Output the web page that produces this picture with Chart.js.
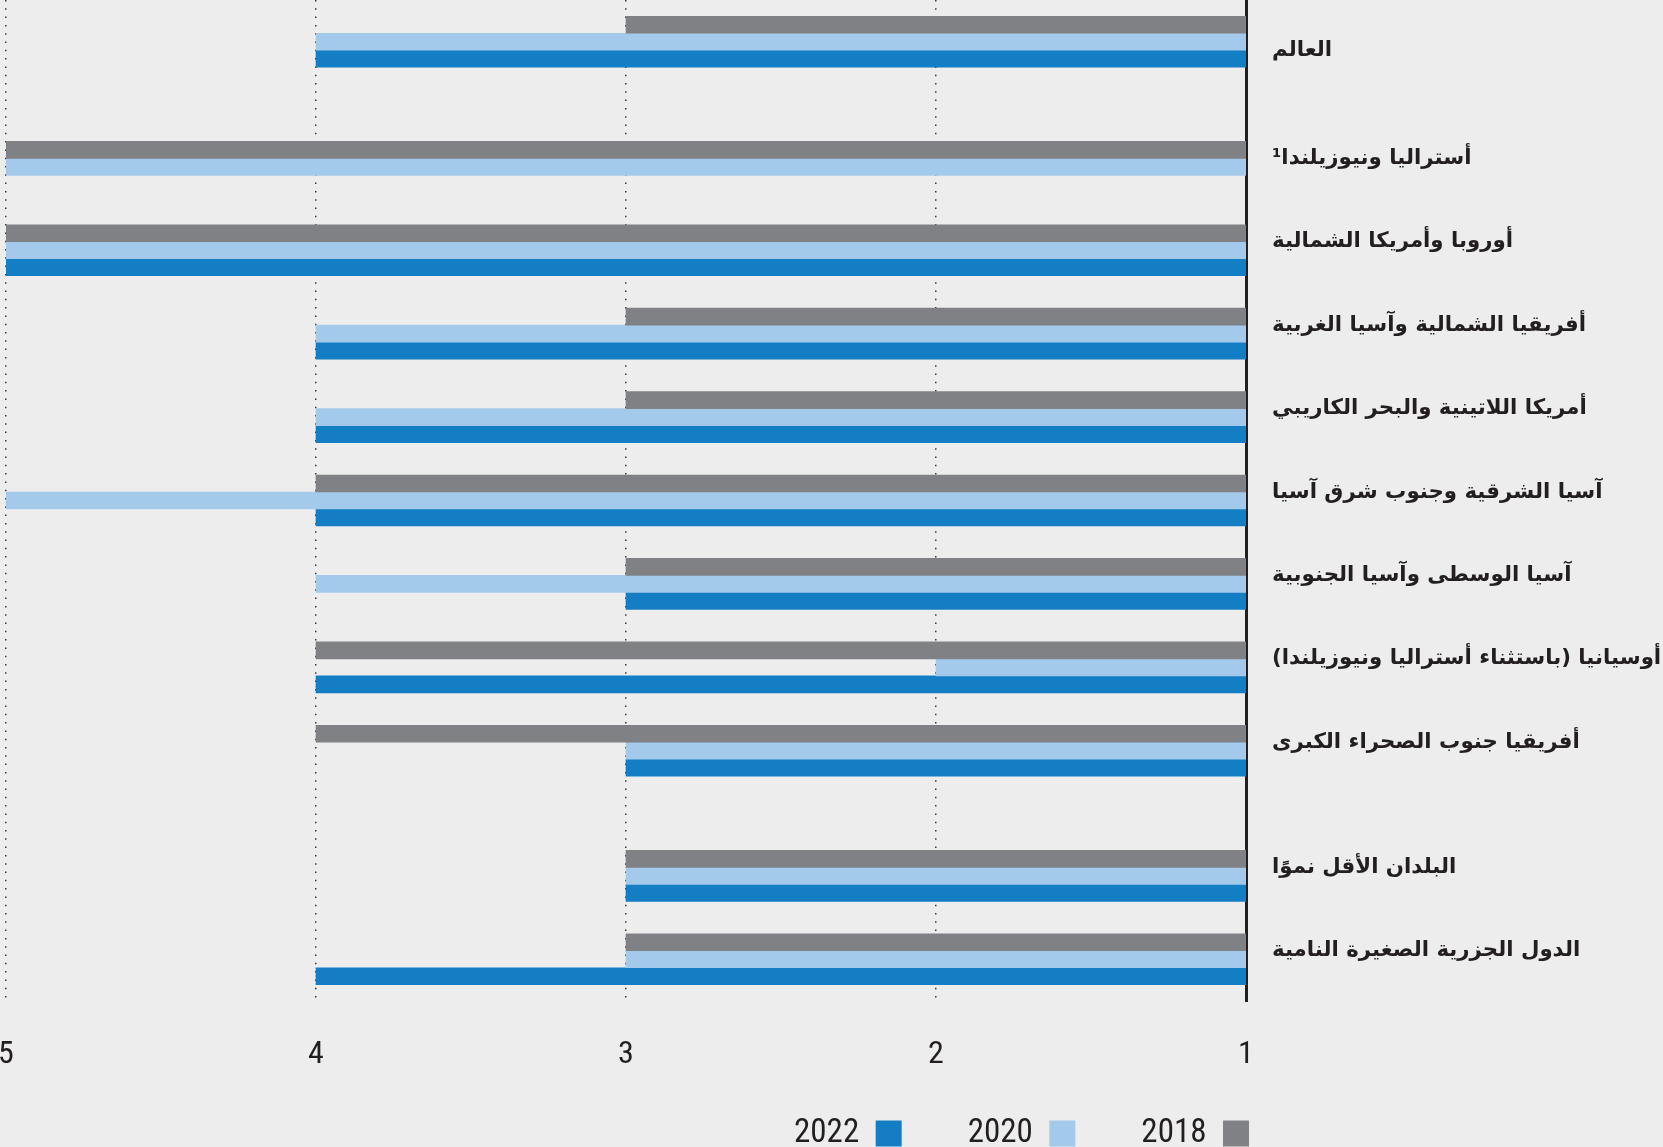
<!DOCTYPE html>
<html lang="ar">
<head>
<meta charset="utf-8">
<title>Bar chart</title>
<script src="https://cdn.jsdelivr.net/npm/chart.js@4.4.1/dist/chart.umd.min.js"></script>
<style>
  html, body { margin: 0; padding: 0; background: #ededed; overflow: hidden; }
  #wrap { width: 1663px; height: 1147px; }
</style>
</head>
<body>
<div id="wrap"><canvas id="bar" dir="rtl"></canvas></div>
<script>
const categories = [
  'العالم',
  'أستراليا ونيوزيلندا¹',
  'أوروبا وأمريكا الشمالية',
  'أفريقيا الشمالية وآسيا الغربية',
  'أمريكا اللاتينية والبحر الكاريبي',
  'آسيا الشرقية وجنوب شرق آسيا',
  'آسيا الوسطى وآسيا الجنوبية',
  'أوسيانيا (باستثناء أستراليا ونيوزيلندا)',
  'أفريقيا جنوب الصحراء الكبرى',
  'البلدان الأقل نموًا',
  'الدول الجزرية الصغيرة النامية'
];
const years = ['2018', '2020', '2022'];
const values2018 = [3, 5, 5, 3, 3, 4, 3, 4, 4, 3, 3];
const values2020 = [4, 5, 5, 4, 4, 5, 4, 2, 3, 3, 3];
const values2022 = [4, null, 5, 4, 4, 4, 3, 4, 3, 3, 4];
const xTicks = [1, 2, 3, 4, 5];

// rows before these get a wider gap in the original layout
const wideGapBefore = ['أستراليا ونيوزيلندا¹', 'البلدان الأقل نموًا'];
// this name sits a little below its bars instead of above
const lowLabels = ['العالم'];

const numFont = "'Liberation Sans Narrow', 'Roboto Condensed', 'Liberation Sans', sans-serif";
const ink = '#231f20';

// half-row spacers so the category scale keeps the uneven spacing
const rowLabels = [];
categories.forEach(c => {
  rowLabels.push('');
  if (wideGapBefore.includes(c)) rowLabels.push('');
  rowLabels.push(c);
});
rowLabels.push('');

const toPoints = vals => categories.map((c, i) => ({ x: vals[i], y: c }));

// the axes are squeezed to make room for the legend, so let their labels spill out
const unclipLabels = {
  id: 'unclipLabels',
  afterLayout(chart) {
    chart.scales.y.right = chart.width;
    chart.scales.x.bottom = chart.height;
  }
};

const bar = document.getElementById('bar');

new Chart(bar, {
  type: 'bar',
  data: {
    labels: rowLabels,
    datasets: [
      { label: years[0], data: toPoints(values2018), backgroundColor: '#808184' },
      { label: years[1], data: toPoints(values2020), backgroundColor: '#a3c9eb' },
      { label: years[2], data: toPoints(values2022), backgroundColor: '#137ec3' }
    ]
  },
  plugins: [unclipLabels],
  options: {
    indexAxis: 'y',
    animation: false,
    responsive: true,
    maintainAspectRatio: false,
    datasets: {
      bar: { barThickness: 17, borderWidth: 0 }
    },
    layout: {
      padding: { left: 6, top: 0, right: 348, bottom: -13 }
    },
    scales: {
      x: {
        reverse: true,
        min: 1,
        max: 5,
        afterBuildTicks: scale => {
          scale.ticks = xTicks.map(v => ({ value: v }));
        },
        afterFit: scale => {
          scale.height = 50;
          scale.paddingLeft = 0;
          scale.paddingRight = 0;
        },
        ticks: {
          padding: 35,
          color: ink,
          font: { family: numFont, size: 32 }
        },
        grid: {
          drawTicks: false,
          lineWidth: 1.5,
          color: ctx => (ctx.tick && ctx.tick.value === 1) ? 'rgba(0,0,0,0)' : '#3a3a3a'
        },
        border: { display: false, dash: [1.5, 6.8] }
      },
      y: {
        position: 'right',
        offset: false,
        afterFit: scale => {
          scale.width = 69;
          scale.paddingTop = 0;
          scale.paddingBottom = 0;
        },
        grid: { display: false, drawTicks: false },
        border: { display: true, color: ink, width: 3 },
        ticks: {
          autoSkip: false,
          padding: 26,
          color: ink,
          // an empty extra line nudges the name up (or down) from the bar group, as in the original
          callback: function (value) {
            const name = this.getLabelForValue(value);
            if (!name) return '';
            return lowLabels.includes(name) ? ['', name] : [name, ''];
          },
          font: { family: "'DejaVu Sans', sans-serif", size: 21.3, weight: 'bold', lineHeight: '17px' }
        }
      }
    },
    plugins: {
      legend: {
        position: 'bottom',
        align: 'start',
        rtl: true,
        labels: {
          boxWidth: 26,
          boxHeight: 26,
          padding: 66,
          color: ink,
          font: { family: numFont, size: 33 }
        }
      },
      tooltip: { enabled: false }
    }
  }
});
</script>
</body>
</html>
